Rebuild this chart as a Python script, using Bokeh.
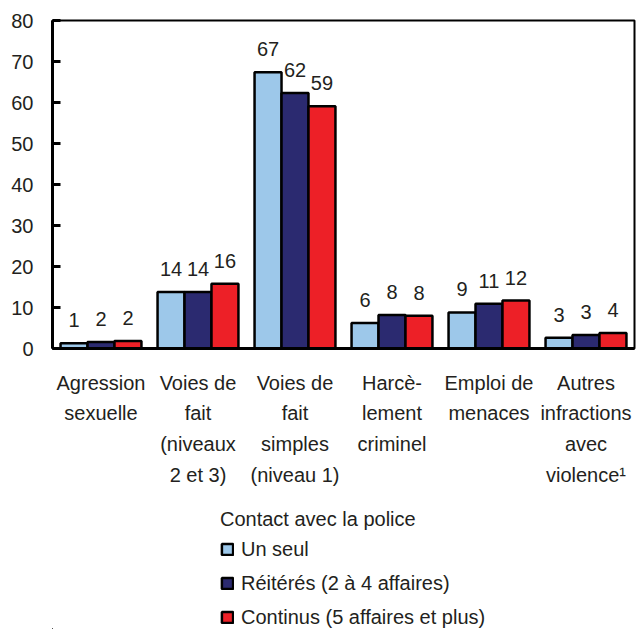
from bokeh.plotting import figure
from bokeh.models import ColumnDataSource, FactorRange, Legend, LegendItem, FixedTicker, Range1d
from bokeh.layouts import column
from bokeh.transform import dodge
from bokeh.embed import file_html
from bokeh.resources import INLINE

categories = ["Agression\nsexuelle", "Voies de\nfait\n(niveaux\n2 et 3)",
              "Voies de\nfait\nsimples\n(niveau 1)", "Harcè-\nlement\ncriminel",
              "Emploi de\nmenaces", "Autres\ninfractions\navec\nviolence¹"]
series_names = ["Un seul", "Réitérés (2 à 4 affaires)", "Continus (5 affaires et plus)"]
legend_title = "Contact avec la police"
un_seul = [1.3, 13.8, 67.4, 6.2, 8.8, 2.6]
reiteres = [1.6, 13.8, 62.3, 8.2, 10.9, 3.3]
continus = [1.8, 15.8, 59.1, 8.0, 11.7, 3.8]
un_seul_lbl = ["1", "14", "67", "6", "9", "3"]
reiteres_lbl = ["2", "14", "62", "8", "11", "3"]
continus_lbl = ["2", "16", "59", "8", "12", "4"]
colors = ["#9dc8ea", "#2b2a70", "#ed2027"]
y_ticks = [0, 10, 20, 30, 40, 50, 60, 70, 80]

FONT = "Liberation Sans"
TXT = "#231f20"

src = ColumnDataSource(dict(cat=categories, a=un_seul, b=reiteres, c=continus,
                            la=un_seul_lbl, lb=reiteres_lbl, lc=continus_lbl))

p = figure(x_range=FactorRange(*categories, range_padding=0), y_range=(0, 80),
           width=636, height=488, output_backend="svg", toolbar_location=None,
           min_border_left=52, min_border_right=2, min_border_top=20,
           min_border_bottom=140)

bw = 0.278
for col, lcol, off, color in zip(["a", "b", "c"], ["la", "lb", "lc"], [-bw, 0, bw], colors):
    p.vbar(x=dodge("cat", off, range=p.x_range), top=col, width=bw, source=src,
           fill_color=color, line_color="black", line_width=2.5)
    p.text(x=dodge("cat", off, range=p.x_range), y=col, text=lcol, source=src,
           text_align="center", text_baseline="alphabetic", y_offset=-23,
           text_font_size="20px", text_color=TXT, text_font={"value": FONT})

p.xgrid.visible = False
p.ygrid.visible = False
p.outline_line_color = "black"
p.outline_line_width = 2
p.outline_line_alpha = 1

p.yaxis.ticker = FixedTicker(ticks=y_ticks)
p.yaxis.axis_line_width = 3
p.yaxis.axis_line_color = "black"
p.yaxis.major_tick_in = 8
p.yaxis.major_tick_out = 0
p.yaxis.major_tick_line_width = 3
p.yaxis.minor_tick_line_color = None
p.yaxis.major_label_standoff = 19
p.yaxis.major_label_text_font_size = "20px"
p.yaxis.major_label_text_font = FONT
p.yaxis.major_label_text_color = TXT

p.xaxis.axis_line_width = 3
p.xaxis.axis_line_color = "black"
p.xaxis.major_tick_line_color = None
p.xaxis.minor_tick_line_color = None
p.xaxis.major_label_standoff = 17
p.xaxis.major_label_text_font_size = "20px"
p.xaxis.major_label_text_font = FONT
p.xaxis.major_label_text_color = TXT
p.xaxis.major_label_text_line_height = 1.4

# legend panel (same borders as the chart so the frames line up)
pl = figure(width=636, height=141, output_backend="svg", toolbar_location=None,
            x_range=Range1d(0, 1), y_range=Range1d(0, 1),
            min_border_left=52, min_border_right=2, min_border_top=0, min_border_bottom=0)
pl.axis.visible = False
pl.grid.visible = False
pl.outline_line_color = None
# swatch renderers kept far outside the visible range; only their legend entries show
leg_src = ColumnDataSource(dict(x=[-50.0], top=[-50.0], bottom=[-60.0]))
leg_renderers = [pl.vbar(x="x", top="top", bottom="bottom", width=0.1, source=leg_src,
                         fill_color=c, line_color="black", line_width=2.5) for c in colors]
legend = Legend(items=[LegendItem(label=n, renderers=[r]) for n, r in zip(series_names, leg_renderers)],
                title=legend_title, location=(168, 0),
                orientation="vertical", border_line_alpha=0, background_fill_alpha=0,
                glyph_width=14, glyph_height=14, label_standoff=7, spacing=10,
                padding=0, margin=0, label_height=24,
                label_text_font_size="20px", label_text_font=FONT, label_text_color=TXT,
                title_text_font_size="20px", title_text_font=FONT, title_text_color=TXT,
                title_text_font_style="normal", title_standoff=6)
pl.add_layout(legend, "center")

open("out.html", "w").write(file_html(column(p, pl, spacing=0), INLINE))
